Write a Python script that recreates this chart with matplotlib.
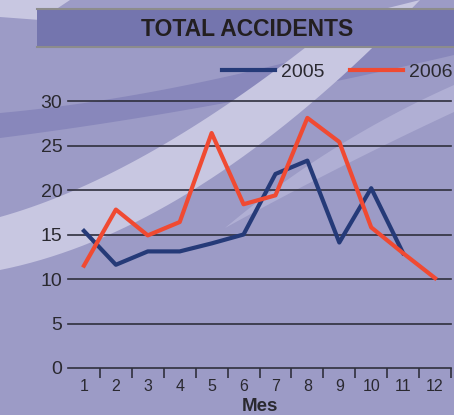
import numpy as np
import matplotlib
matplotlib.use("Agg")
from matplotlib import pyplot as plt
from matplotlib.path import Path
from matplotlib.patches import PathPatch, Rectangle

plt.rcParams['font.family'] = ['Liberation Sans', 'DejaVu Sans']

# data
months = list(range(1, 13))
month_labels = [str(m) for m in months]
acc_2005 = [15.4, 11.6, 13.1, 13.1, 14.0, 15.0, 21.8, 23.3, 14.1, 20.2, 12.9, np.nan]
acc_2006 = [11.5, 17.8, 14.9, 16.4, 26.4, 18.4, 19.4, 28.1, 25.4, 15.8, 12.9, 10.1]
y_ticks = [0, 5, 10, 15, 20, 25, 30]

base_col = '#9c9bc6'
text_col = '#2a2930'

fig = plt.figure(figsize=(4.54, 4.15), dpi=100, facecolor=base_col)

# decorative background drawn in pixel coordinates
bg = fig.add_axes([0, 0, 1, 1], zorder=0)
bg.set_xlim(0, 454)
bg.set_ylim(415, 0)
bg.axis('off')

def band(upper, lower, color):
    # band: upper edge left->right, lower edge left->right
    pts = upper + lower[::-1]
    verts = pts + [pts[0]]
    codes = [Path.MOVETO] + [Path.LINETO] * (len(pts) - 1) + [Path.CLOSEPOLY]
    bg.add_patch(PathPatch(Path(verts, codes), facecolor=color, edgecolor='none'))

def curve(p0, p1, p2, n=40):
    t = np.linspace(0, 1, n)
    x = (1-t)**2*p0[0] + 2*(1-t)*t*p1[0] + t**2*p2[0]
    y = (1-t)**2*p0[1] + 2*(1-t)*t*p1[1] + t**2*p2[1]
    return list(zip(x, y))

# dark band upper left
band(curve((0, 113), (200, 95), (454, 15)), curve((0, 138), (220, 110), (454, 55)), '#8887bb')
# light band
band(curve((0, 217), (150, 175), (340, 20)), curve((0, 270), (200, 230), (420, 0)), '#c8c7e1')
# faint band right
band(curve((225, 228), (330, 140), (454, 85)), curve((225, 228), (340, 165), (454, 112)), '#b0afd4')
# top-left light corner
band([(0, 0), (70, 0)], [(0, 17), (40, 20)], '#c8c7e1')

# title banner
bg.add_patch(Rectangle((37, 9), 430, 38, facecolor='#7475ae', edgecolor='none'))
bg.plot([37, 454], [9, 9], color='#8c8c8c', lw=1.5)
bg.plot([37, 454], [47, 47], color='#8c8c8c', lw=1.5)
bg.text(247, 29, 'TOTAL ACCIDENTS', ha='center', va='center', fontsize=16.5,
        fontweight='bold', color='#231f20')

# main chart
ax = fig.add_axes([68/454, 1-368/415, 383/454, 267/415], zorder=1)
ax.set_facecolor('none')
ax.plot(months, acc_2005, color='#253a78', lw=3, label='2005')
ax.plot(months, acc_2006, color='#f04a32', lw=3, label='2006')

ax.set_xlim(0.5, 12.5)
ax.set_ylim(0, 30)
ax.set_yticks(y_ticks)
ax.set_yticklabels([str(v) for v in y_ticks], fontsize=14, color=text_col)
ax.set_xticks(months)
ax.set_xticklabels(month_labels, fontsize=11.5, color=text_col)
ax.set_xticks(np.arange(1.5, 13, 1), minor=True)
ax.tick_params(axis='y', length=0, pad=4)
ax.tick_params(axis='x', which='major', length=0, pad=8)
ax.tick_params(axis='x', which='minor', length=7, width=1.2, color='#2f2f3d', direction='out')
ax.grid(axis='y', color='#2f2f3d', lw=1.2)
ax.set_axisbelow(True)
for gl in ax.get_ygridlines():
    gl.set_clip_on(False)
for s in ax.spines.values():
    s.set_visible(False)
ax.set_xlabel('Mes', fontsize=13.5, fontweight='bold', color=text_col, labelpad=3)

fig.legend(loc='center left', bbox_to_anchor=(222/454, 1-72/415), ncol=2, frameon=False,
           fontsize=14, handlelength=2.7, handletextpad=0.35, columnspacing=1.3,
           borderpad=0, borderaxespad=0, labelcolor=text_col)

fig.savefig('out.png', dpi=100, facecolor=base_col)
